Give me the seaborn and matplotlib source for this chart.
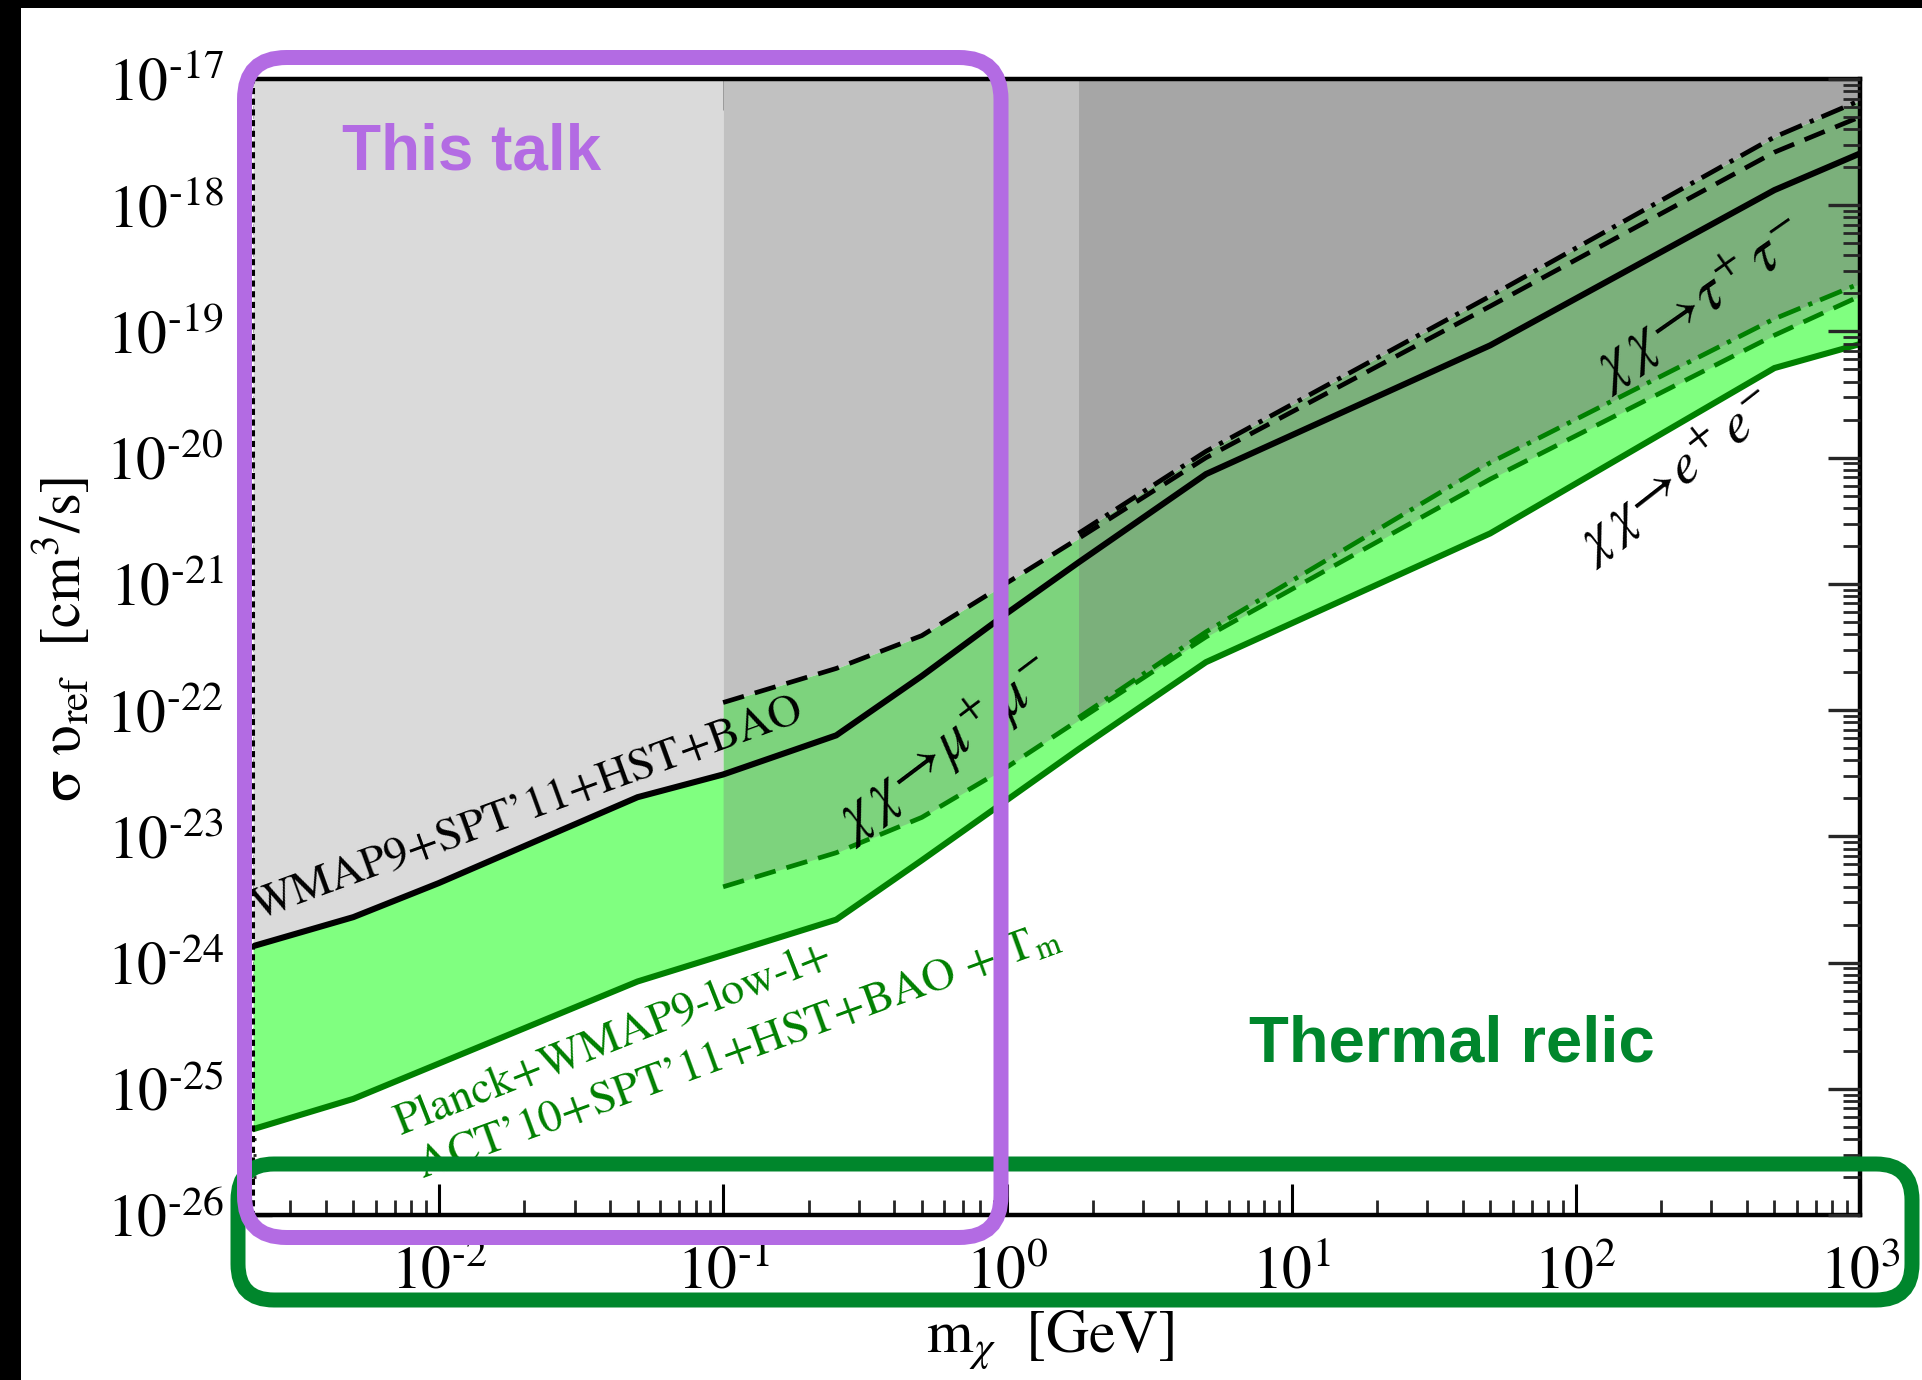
import numpy as np
import pandas as pd
import seaborn as sns
import matplotlib
matplotlib.use("Agg")
import matplotlib.pyplot as plt
from matplotlib.patches import FancyBboxPatch, Rectangle
from matplotlib.transforms import IdentityTransform
from matplotlib.ticker import FixedLocator, LogLocator, NullFormatter

# ---------------- data (masses in GeV, values as log10 of sigma v) ----------------
mass_e = [0.00222, 0.005, 0.01, 0.05, 0.1, 0.25, 0.5, 1.0, 1.78, 5.0, 50.0, 500.0, 1000.0]
wmap_ee_exp = [-23.87, -23.64, -23.37, -22.69, -22.51, -22.20, -21.73, -21.23, -20.83, -20.13, -19.11, -17.88, -17.59]
planck_ee_exp = [-25.32, -25.08, -24.80, -24.15, -23.94, -23.66, -23.19, -22.71, -22.31, -21.62, -20.60, -19.29, -19.10]

mass_mu = [0.1, 0.25, 0.5, 1.0, 1.78, 5.0, 50.0, 500.0, 1000.0]
wmap_mumu_exp = [-21.94, -21.67, -21.41, -20.99, -20.64, -20.00, -18.80, -17.58, -17.30]
planck_mumu_exp = [-23.40, -23.13, -22.85, -22.45, -22.08, -21.42, -20.17, -19.03, -18.72]

mass_tau = [1.78, 5.0, 50.0, 500.0, 1000.0]
wmap_tautau_exp = [-20.60, -19.95, -18.72, -17.46, -17.17]
planck_tautau_exp = [-22.06, -21.38, -20.04, -18.90, -18.62]

mu_threshold = 0.1
tau_threshold = 1.78

x_ticks = [1e-2, 1e-1, 1e0, 1e1, 1e2, 1e3]
x_tick_labels = ["$10^{\u2010 2}$", "$10^{\u2010 1}$", "$10^{0}$", "$10^{1}$", "$10^{2}$", "$10^{3}$"]
y_ticks = [1e-26, 1e-25, 1e-24, 1e-23, 1e-22, 1e-21, 1e-20, 1e-19, 1e-18, 1e-17]
y_tick_labels = ["$10^{\u2010 %d}$" % k for k in [26, 25, 24, 23, 22, 21, 20, 19, 18, 17]]
x_limits = (0.002218, 1000.0)
y_limits = (1e-26, 1e-17)

# ---------------- style ----------------
sns.set_theme(style="white")
plt.rcParams["font.family"] = ["STIXGeneral", "DejaVu Serif"]
plt.rcParams["mathtext.fontset"] = "stix"
plt.rcParams["axes.unicode_minus"] = False

C_LGRAY = "#dadada"
C_MGRAY = "#c1c1c1"
C_DGRAY = "#a6a6a6"
C_BGREEN = "#80ff80"
C_MGREEN = "#7dd37d"
C_DGREEN = "#7bb07b"
C_LINEGREEN = "#008000"
C_PURPLE = "#b36be3"
C_BOXGREEN = "#00862c"

W, H = 1922, 1380
fig = plt.figure(figsize=(W / 100, H / 100), dpi=100, facecolor="white")
ax_l, ax_r, ax_t, ax_b = 253, 1860, 79, 1215
ax = fig.add_axes([ax_l / W, 1 - ax_b / H, (ax_r - ax_l) / W, (ax_b - ax_t) / H])
ax.set_xscale("log")
ax.set_yscale("log")
ax.set_xlim(*x_limits)
ax.set_ylim(*y_limits)

def v(exps):
    return 10.0 ** np.asarray(exps)

me = np.asarray(mass_e)
mm = np.asarray(mass_mu)
mt = np.asarray(mass_tau)
top = y_limits[1]

# gray excluded regions
sel_e = me <= mu_threshold
ax.fill_between(me[sel_e], v(wmap_ee_exp)[sel_e], top, color=C_LGRAY, lw=0, zorder=1)
sel_m = mm <= tau_threshold
ax.fill_between(mm[sel_m], v(wmap_mumu_exp)[sel_m], top, color=C_MGRAY, lw=0, zorder=1)
ax.fill_between(mt, v(wmap_tautau_exp), top, color=C_DGRAY, lw=0, zorder=1)

# green bands (Planck improvement)
ax.fill_between(me, v(planck_ee_exp), v(wmap_ee_exp), color=C_BGREEN, lw=0, zorder=1.1)
ax.fill_between(mm, v(planck_mumu_exp), v(wmap_mumu_exp), color=C_MGREEN, lw=0, zorder=1.2)
ax.fill_between(mt, v(planck_tautau_exp), v(wmap_tautau_exp), color=C_DGREEN, lw=0, zorder=1.3)

# lines
def draw(x, y, color, ls, lw):
    sns.lineplot(x=x, y=v(y), ax=ax, color=color, linewidth=lw, sort=False,
                 estimator=None, zorder=3)
    ln = ax.lines[-1]
    ln.set_linestyle(ls)
    ln.set_solid_joinstyle("miter")

DASH = (0, (4.6, 2.4))
DASHDOT = (0, (5.0, 1.8, 0.9, 1.8))
draw(mass_e, wmap_ee_exp, "black", "-", 4.4)
draw(mass_e, planck_ee_exp, C_LINEGREEN, "-", 4.4)
draw(mass_mu, wmap_mumu_exp, "black", DASH, 3.4)
draw(mass_mu, planck_mumu_exp, C_LINEGREEN, DASH, 3.4)
draw(mass_tau, wmap_tautau_exp, "black", DASHDOT, 3.4)
draw(mass_tau, planck_tautau_exp, C_LINEGREEN, DASHDOT, 3.4)

ax.set_xlim(*x_limits)
ax.set_ylim(*y_limits)

# ---------------- axes, ticks ----------------
for s in ["top", "bottom", "right"]:
    ax.spines[s].set_linewidth(3.2)
    ax.spines[s].set_color("black")
    ax.spines[s].set_visible(True)
ax.spines["left"].set_visible(True)
ax.spines["left"].set_color("black")
ax.spines["left"].set_linewidth(2.2)
ax.spines["left"].set_linestyle((0, (1, 2.5)))
for s in ax.spines.values():
    s.set_zorder(5)

ax.xaxis.set_major_locator(FixedLocator(x_ticks))
ax.set_xticklabels(x_tick_labels)
ax.xaxis.set_minor_locator(LogLocator(base=10, subs=np.arange(2, 10), numticks=100))
ax.xaxis.set_minor_formatter(NullFormatter())
ax.tick_params(axis="x", which="major", direction="in", length=22, width=2.2,
               top=True, bottom=True, labelsize=43, pad=22, colors="black")
ax.tick_params(axis="x", which="minor", direction="in", length=11, width=2.0,
               top=True, bottom=True)

ax.yaxis.set_major_locator(FixedLocator(y_ticks))
ax.set_yticklabels(y_tick_labels)
ax.yaxis.set_minor_locator(LogLocator(base=10, subs=np.arange(2, 10), numticks=100))
ax.yaxis.set_minor_formatter(NullFormatter())
ax.tick_params(axis="y", which="major", direction="in", length=14, width=2.4,
               left=True, right=False, labelsize=43, pad=21, colors="black")
ax.tick_params(axis="y", which="minor", direction="in", length=2.5, width=2.0,
               left=True, right=False)

axr = ax.twinx()
axr.set_yscale("log")
axr.set_ylim(*y_limits)
axr.yaxis.set_major_locator(FixedLocator(y_ticks))
axr.yaxis.set_minor_locator(LogLocator(base=10, subs=np.arange(2, 10), numticks=100))
axr.yaxis.set_major_formatter(NullFormatter())
axr.yaxis.set_minor_formatter(NullFormatter())
axr.tick_params(axis="y", which="major", direction="in", length=23, width=2.4, right=True, labelright=False)
axr.tick_params(axis="y", which="minor", direction="in", length=12, width=2.0, right=True)
for s in axr.spines.values():
    s.set_visible(False)
axr.grid(False)
ax.grid(False)

ax.set_xlabel(r"m$_{\chi}$  [GeV]", fontsize=43, color="black")
ax.xaxis.set_label_coords(0.496, -0.083)
ax.set_ylabel(r"σ υ$_{\mathrm{ref}}$  [cm$^{3}$/s]", fontsize=42, color="black")
ax.yaxis.set_label_coords(-0.099, 0.507)

# ---------------- annotations ----------------
ax.text(0.02056, 10 ** -22.79, "WMAP9+SPT’11+HST+BAO", fontsize=33, color="black",
        rotation=20, rotation_mode="anchor", ha="center", va="center", zorder=4)
ax.text(0.00735, 10 ** -25.368, "Planck+WMAP9-low-l+", fontsize=33, color=C_LINEGREEN,
        rotation=21.5, rotation_mode="anchor", ha="left", va="baseline", zorder=4)
ax.text(0.00871, 10 ** -25.708, r"ACT’10+SPT’11+HST+BAO + T$_{\mathrm{m}}$", fontsize=33,
        color=C_LINEGREEN, rotation=20, rotation_mode="anchor", ha="left", va="baseline", zorder=4)
ax.text(0.60, 10 ** -22.30, r"$\chi\,\chi\!\rightarrow\!\mu^{+}\,\mu^{-}$", fontsize=43,
        color="black", rotation=37, rotation_mode="anchor", ha="center", va="center", zorder=4)
ax.text(270.0, 10 ** -18.78, r"$\chi\,\chi\!\rightarrow\!\tau^{+}\,\tau^{-}$", fontsize=43,
        color="black", rotation=35, rotation_mode="anchor", ha="center", va="center", zorder=4)
ax.text(226.0, 10 ** -20.15, r"$\chi\,\chi\!\rightarrow\!e^{+}\,e^{-}$", fontsize=41,
        color="black", rotation=38, rotation_mode="anchor", ha="center", va="center", zorder=4)

# ---------------- slide decorations ----------------
fig.patches.append(Rectangle((0, 1 - 8 / H), 1, 8 / H, transform=fig.transFigure,
                             facecolor="black", edgecolor="none", zorder=0.5))
fig.patches.append(Rectangle((0, 0), 21 / W, 1, transform=fig.transFigure,
                             facecolor="black", edgecolor="none", zorder=0.5))

green_box = FancyBboxPatch((238, 80), 1674, 136, boxstyle="round,pad=0,rounding_size=36",
                           transform=IdentityTransform(), facecolor="none",
                           edgecolor=C_BOXGREEN, linewidth=10.8, zorder=6)
purple_box = FancyBboxPatch((244.5, 142.5), 756.5, 1180, boxstyle="round,pad=0,rounding_size=42",
                            transform=IdentityTransform(), facecolor="none",
                            edgecolor=C_PURPLE, linewidth=10.8, zorder=7)
fig.patches.append(green_box)
fig.patches.append(purple_box)

fig.text(472 / W, 1 - 152 / H, "This talk", fontsize=46, fontweight="bold",
         family=["Liberation Sans", "DejaVu Sans"], color=C_PURPLE, ha="center", va="center", zorder=8)
fig.text(1452 / W, 1 - 1045 / H, "Thermal relic", fontsize=47, fontweight="bold",
         family=["Liberation Sans", "DejaVu Sans"], color=C_BOXGREEN, ha="center", va="center", zorder=8)

fig.savefig("out.png", dpi=100, facecolor="white")
